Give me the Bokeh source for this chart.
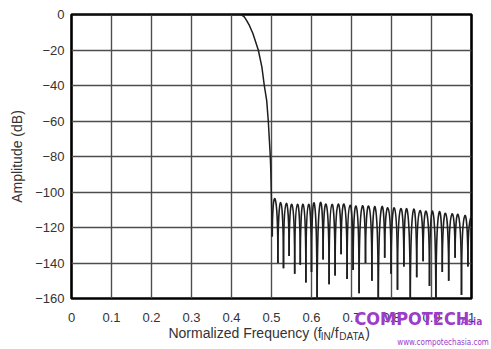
from bokeh.plotting import figure
from bokeh.models import Range1d, FixedTicker, LinearAxis, ColumnDataSource
from bokeh.embed import file_html
from bokeh.resources import INLINE

# ---------------- data ----------------
x_ticks = [0, 0.1, 0.2, 0.3, 0.4, 0.5, 0.6, 0.7, 0.8, 0.9, 1.0]
x_tick_labels = ["0", "0.1", "0.2", "0.3", "0.4", "0.5", "0.6", "0.7", "0.8", "0.9", "1"]
y_ticks = [-160, -140, -120, -100, -80, -60, -40, -20, 0]

# pass band and transition band
roll_freq = [0.0, 0.420, 0.426, 0.432, 0.438, 0.445, 0.4535, 0.467, 0.476, 0.482,
             0.488, 0.492, 0.4938, 0.497, 0.498, 0.4995, 0.502]
roll_db = [0.0, 0.0, -0.3, -1.3, -3.4, -6.3, -10.7, -20.0, -29.7, -40.0,
           -48.5, -60.0, -67.3, -80.0, -86.0, -100.0, -125.0]

# stop band: null positions / depths and lobe peak levels
null_freq = [0.502, 0.516, 0.530, 0.544, 0.558, 0.572, 0.586, 0.600, 0.614, 0.629,
             0.644, 0.659, 0.674, 0.689, 0.704, 0.719, 0.735, 0.751, 0.767, 0.783,
             0.799, 0.815, 0.831, 0.847, 0.863, 0.879, 0.895, 0.911, 0.927, 0.943,
             0.959, 0.975, 0.991, 1.007]
null_db = [-125, -140, -143, -136, -146, -141, -151, -145, -170, -138,
           -152, -147, -135, -149, -144, -157, -140, -150, -170, -137,
           -146, -155, -142, -170, -148, -139, -153, -170, -145, -150,
           -137, -158, -142, -130]
peak_db = [-104, -106, -106.5, -107, -107, -107, -107, -106.5, -106.5, -107,
           -107, -107, -107, -107.5, -108, -108, -108, -108.5, -109, -109,
           -109, -109.5, -110, -110, -110.5, -111, -111, -111.5, -112, -112.5,
           -113, -113.5, -114]

FONT = "Liberation Sans"
WFONT = "DejaVu Sans Condensed"
TXT = "#333333"
PURPLE = "#9d3cc9"

# ---------------- figure ----------------
p = figure(width=491, height=349, output_backend="svg", toolbar_location=None,
           x_range=Range1d(0, 1), y_range=Range1d(-160, 0),
           min_border_left=71, min_border_right=20, min_border_top=14, min_border_bottom=51)
p.background_fill_color = "white"
p.border_fill_color = "white"
p.outline_line_color = "black"
p.outline_line_width = 2.6

for g, t in ((p.xgrid, x_ticks), (p.ygrid, y_ticks)):
    g.ticker = FixedTicker(ticks=t)
    g.grid_line_color = "#4d4d4d"
    g.grid_line_width = 1.4

xax = p.xaxis[0]
yax = p.yaxis[0]
xax.ticker = FixedTicker(ticks=x_ticks)
xax.major_label_overrides = {t: l for t, l in zip(x_ticks, x_tick_labels)}
yax.ticker = FixedTicker(ticks=y_ticks)
for ax in (xax, yax):
    ax.axis_line_color = None
    ax.major_tick_line_color = None
    ax.minor_tick_line_color = None
    ax.major_tick_out = 0
    ax.major_tick_in = 0
    ax.major_label_text_font = FONT
    ax.major_label_text_font_size = "13px"
    ax.major_label_text_color = TXT
xax.major_label_standoff = 14
yax.major_label_standoff = 7
yax.axis_label = "Amplitude (dB)"
yax.axis_label_text_font = FONT
yax.axis_label_text_font_size = "14px"
yax.axis_label_text_font_style = "normal"
yax.axis_label_text_color = TXT
yax.axis_label_standoff = 7

# pass band / transition
p.line(roll_freq, roll_db, line_color="#1e1e1e", line_width=1.5)

# stop band lobes as cubic curves between successive nulls
x0 = null_freq[:-1]
x1 = null_freq[1:]
y0 = null_db[:-1]
y1 = null_db[1:]
cy = [(pk - 0.125 * (a + b)) / 0.75 for pk, a, b in zip(peak_db, y0, y1)]
src = ColumnDataSource(dict(x0=x0, y0=y0, x1=x1, y1=y1, cx0=x0, cy0=cy, cx1=x1, cy1=cy))
p.bezier(x0="x0", y0="y0", x1="x1", y1="y1", cx0="cx0", cy0="cy0", cx1="cx1", cy1="cy1",
         source=src, line_color="#1e1e1e", line_width=1.6)


# ---- text rows under the plot, set as label-only axes (not clipped by the frame) ----
def text_row(pos, texts, size, font, color, standoff, style="normal"):
    ax = LinearAxis(ticker=FixedTicker(ticks=pos),
                    major_label_overrides={a: b for a, b in zip(pos, texts)},
                    axis_line_color=None, major_tick_line_color=None,
                    minor_tick_line_color=None, major_tick_in=0, major_tick_out=0,
                    major_label_standoff=standoff, major_label_text_font=font,
                    major_label_text_font_size=size, major_label_text_color=color,
                    major_label_text_font_style=style)
    p.add_layout(ax, "below")


# watermark of the publisher
text_row([1.0], ["Asia"], "10px", WFONT, PURPLE, -9, "bold")
text_row([0.851], ["COMPOTECH"], "18px", WFONT, PURPLE, -22, "bold")
# x axis title: Normalized Frequency (f_IN / f_DATA)
text_row([0.434, 0.658, 0.740], ["Normalized Frequency (f", "/f", ")"], "14px", FONT, TXT, -7)
text_row([0.63575, 0.701], ["IN", "DATA"], "10px", FONT, TXT, -13)
text_row([0.929], ["www.compotechasia.com"], "8px", WFONT, PURPLE, -7)

open("out.html", "w").write(file_html(p, INLINE))
